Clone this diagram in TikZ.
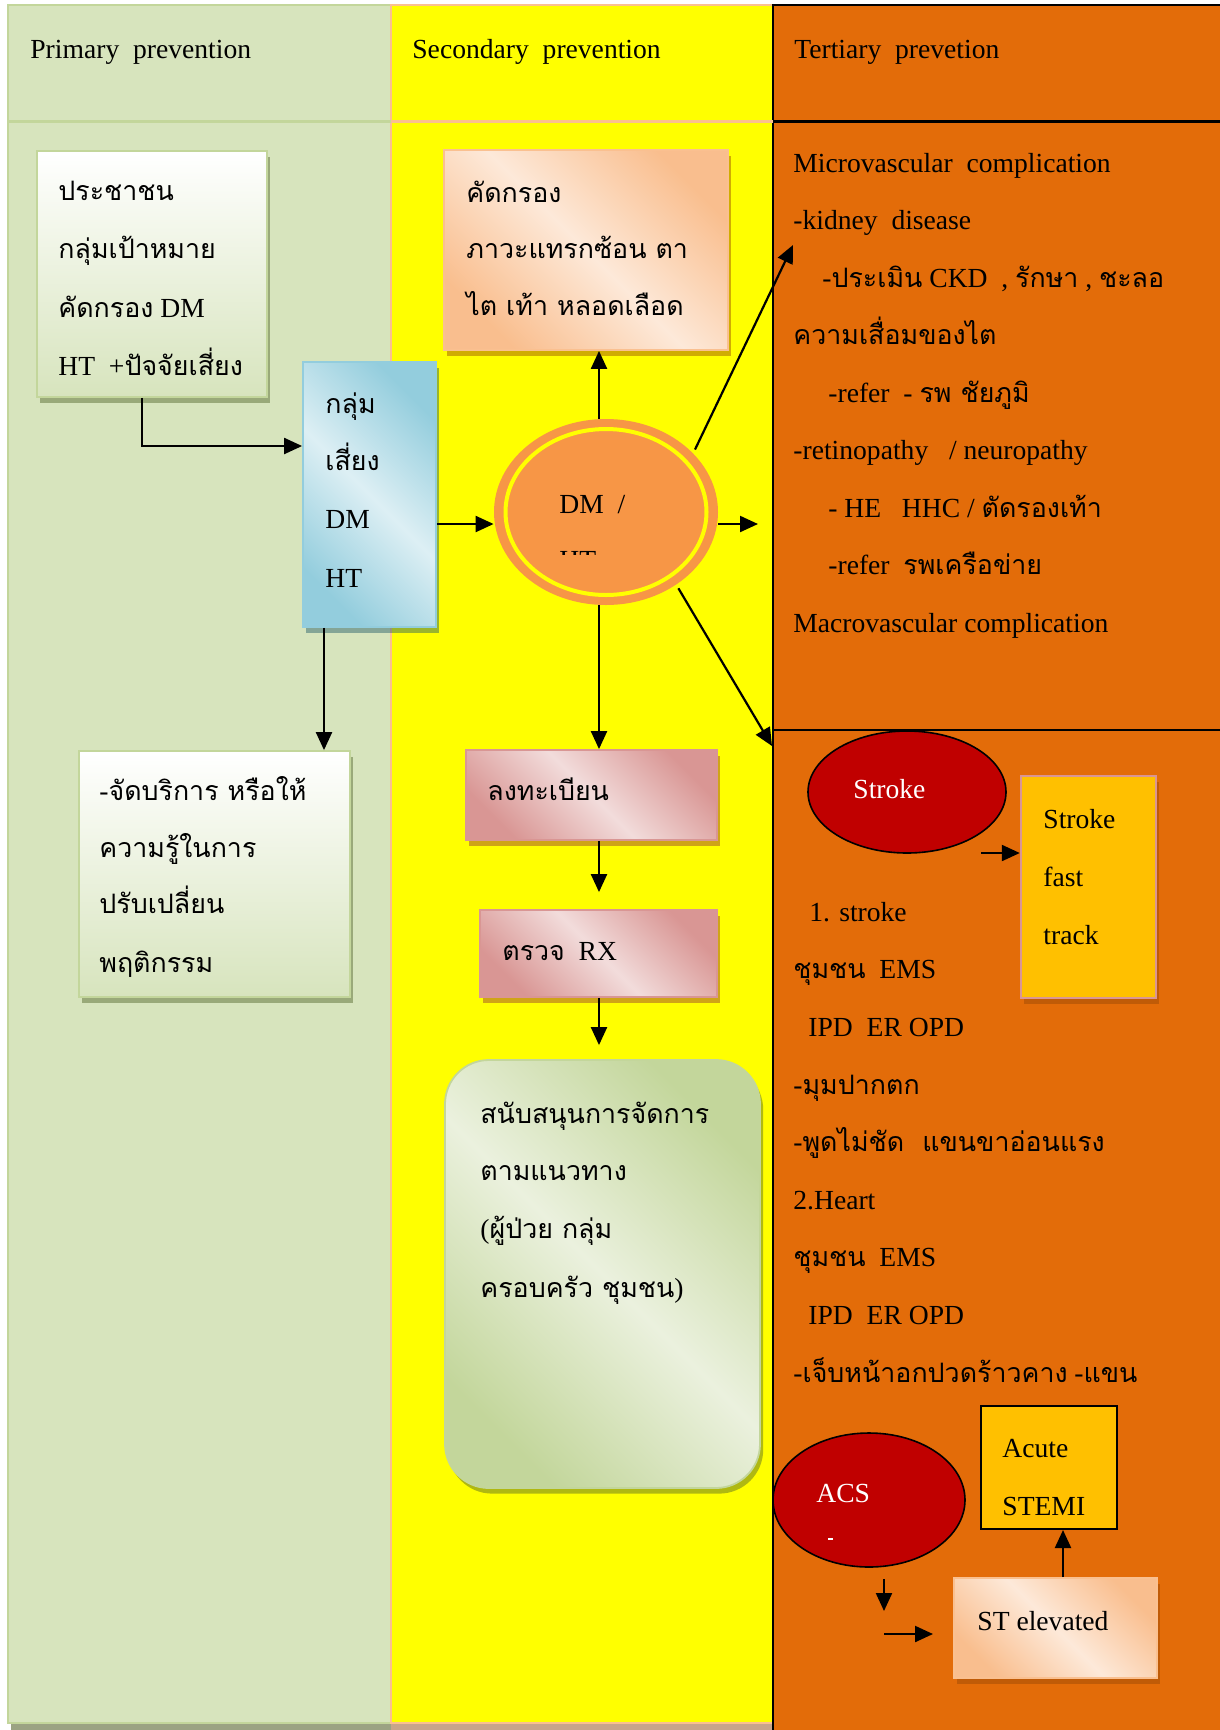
\documentclass[tikz,border=0pt]{standalone}
\usepackage{fontspec}
\setmainfont{Liberation Serif}
\newfontfamily\thaifont[Script=Thai,Scale=0.97]{Loma}
\usetikzlibrary{arrows.meta,shapes.geometric,shadows,fit,calc}

\newcommand\tha[1]{{\thaifont #1}}
\newcommand\bodysize{\fontsize{13.8pt}{16pt}\selectfont}

% column colours
\definecolor{greenbg}{HTML}{D7E4BD}
\definecolor{greenline}{HTML}{C3D69B}
\definecolor{yellowbg}{HTML}{FFFF00}
\definecolor{peachline}{HTML}{FAC090}
\definecolor{orangebg}{HTML}{E36C09}
\definecolor{colshadeg}{HTML}{9BA383}
\definecolor{colshadey}{HTML}{C8A58A}
% shape colours
\definecolor{dmorange}{HTML}{F79646}
\definecolor{darkred}{HTML}{C00000}
\definecolor{amber}{HTML}{FFC000}
\definecolor{blueD}{HTML}{93CDDD}
\definecolor{blueL}{HTML}{DDEFF4}
\definecolor{peachD}{HTML}{F9BE8E}
\definecolor{peachL}{HTML}{FDE9D9}
\definecolor{pinkD}{HTML}{D99694}
\definecolor{pinkL}{HTML}{F2DCDB}
\definecolor{greenD}{HTML}{C3D69B}
\definecolor{greenL}{HTML}{EBF1DE}
% shadow colours
\definecolor{sgreen}{HTML}{4F6228}
\definecolor{sblue}{HTML}{215968}
\definecolor{sorange}{HTML}{974806}
\definecolor{sred}{HTML}{953735}

\begin{document}
\begin{tikzpicture}[x=0.5pt,y=-0.5pt,
  txt/.style={anchor=base west,inner sep=0pt,font=\bodysize},
  wtxt/.style={txt,text=white},
  arr/.style={line width=1.1pt,-{Triangle[length=9pt,width=8pt]}},
  boxfit/.style={inner sep=0pt,line width=0.9pt},
  shad/.style={drop shadow={shadow xshift=1.6pt,shadow yshift=-2.8pt,fill=#1,opacity=0.45}},
  diag/.style 2 args={top color=#1,bottom color=#1,middle color=#2,shading angle=-45},
]
\useasboundingbox (0,0) rectangle (1220,1730);
\fill[white] (0,0) rectangle (1220,1730);

% ---- the three columns ----
\fill[colshadeg] (11,1723) rectangle (391,1730);
\fill[colshadey] (391,1723) rectangle (773,1730);
\filldraw[fill=greenbg,draw=greenline,line width=1.2pt] (8,5) rectangle (391,1723);
\filldraw[fill=yellowbg,draw=peachline,line width=1.2pt] (391,5) rectangle (773,1723);
\filldraw[fill=orangebg,draw=black,line width=1.1pt] (773,5) rectangle (1230,1740);
\draw[greenline,line width=1.5pt] (8,121) -- (391,121);
\draw[peachline,line width=1.5pt] (391,121) -- (773,121);
\draw[black,line width=1.5pt] (773,121) -- (1230,121);
\draw[black,line width=0.8pt] (773,730) -- (1230,730);

% ---- headers ----
\node[txt] (h1) at (30,58) {Primary\ \ prevention};
\node[txt] (h2) at (412,58) {Secondary\ \ prevention};
\node[txt] (h3) at (794,58) {Tertiary\ \ prevetion};

% ---- primary prevention ----
\node[boxfit,fit={(37,151) (267,397)},draw=greenline,top color=white,bottom color=greenbg,shad=sgreen] (b1) {};
\node[txt] (b1a) at (58,200) {\tha{ประชาชน}};
\node[txt] (b1b) at (58,258) {\tha{กลุ่มเป้าหมาย}};
\node[txt] (b1c) at (58,317) {\tha{คัดกรอง} DM};
\node[txt] (b1d) at (58,375) {HT\ \ +\tha{ปัจจัยเสี่ยง}};

\node[boxfit,fit={(303,362) (436,627)},draw=blueD,diag={blueD}{blueL},shad=sblue] (rb) {};
\node[txt] (rba) at (325,413) {\tha{กลุ่ม}};
\node[txt] (rbb) at (325,470) {\tha{เสี่ยง}};
\node[txt] (rbc) at (325,528) {DM};
\node[txt] (rbd) at (325,587) {HT};

\node[boxfit,fit={(79,751) (350,997)},draw=greenline,top color=white,bottom color=greenbg,shad=sgreen] (pb) {};
\node[txt] (pba) at (99,800) {-\tha{จัดบริการ หรือให้}};
\node[txt] (pbb) at (99,857) {\tha{ความรู้ในการ}};
\node[txt] (pbc) at (99,913) {\tha{ปรับเปลี่ยน}};
\node[txt] (pbd) at (99,972) {\tha{พฤติกรรม}};

% ---- secondary prevention ----
\node[boxfit,fit={(444,150) (728,350)},draw=peachline,diag={peachD}{peachL},shad=sorange] (scr) {};
\node[txt] (scra) at (466,202) {\tha{คัดกรอง}};
\node[txt] (scrb) at (466,258) {\tha{ภาวะแทรกซ้อน ตา}};
\node[txt] (scrc) at (466,315) {\tha{ไต เท้า หลอดเลือด}};

\node[ellipse,inner sep=0pt,minimum width=112pt,minimum height=93pt,fill=dmorange] (dm) at (606,512) {};
\node[ellipse,inner sep=0pt,minimum width=100.5pt,minimum height=83pt,draw=yellowbg,line width=2pt] (dmring) at (dm.center) {};
\begin{scope}
  \clip (494,419) rectangle (718,554.5);
  \node[txt] (dma) at (559,513) {DM\ \ /};
  \node[txt] (dmb) at (559,569.5) {HT};
\end{scope}

\node[boxfit,fit={(466,750) (717,840)},draw=pinkD,diag={pinkD}{pinkL},shad=sred] (reg) {};
\node[txt] (rega) at (487,800) {\tha{ลงทะเบียน}};
\node[boxfit,fit={(480,910) (717,997)},draw=pinkD,diag={pinkD}{pinkL},shad=sred] (rx) {};
\node[txt] (rxa) at (502,960) {\tha{ตรวจ}\ \ RX};

\node[boxfit,fit={(445,1060) (760,1488)},rounded corners=22pt,draw=greenline,diag={greenD}{greenL},shad=sgreen] (sup) {};
\node[txt] (supa) at (480,1123) {\tha{สนับสนุนการจัดการ}};
\node[txt] (supb) at (480,1180) {\tha{ตามแนวทาง}};
\node[txt] (supc) at (480,1238) {(\tha{ผู้ป่วย กลุ่ม}};
\node[txt] (supd) at (480,1297) {\tha{ครอบครัว ชุมชน})};

% ---- tertiary prevention: microvascular ----
\node[txt] (t1) at (793,172) {Microvascular\ \ complication};
\node[txt] (t2) at (793,229.5) {-kidney\ \ disease};
\node[txt] (t3) at (822,287) {-\tha{ประเมิน} CKD\ \ , \tha{รักษา} , \tha{ชะลอ}};
\node[txt] (t4) at (793,344.5) {\tha{ความเสื่อมของไต}};
\node[txt] (t5) at (828,402) {-refer\ \ - \tha{รพ ชัยภูมิ}};
\node[txt] (t6) at (793,459.5) {-retinopathy\ \ \ / neuropathy};
\node[txt] (t7) at (828,517) {- HE\ \ \ HHC / \tha{ตัดรองเท้า}};
\node[txt] (t8) at (828,574.5) {-refer\ \ \tha{รพเครือข่าย}};
\node[txt] (t9) at (793,632) {Macrovascular complication};

% ---- tertiary prevention: macrovascular ----
\node[ellipse,inner sep=0pt,minimum width=99pt,minimum height=61pt,fill=darkred,draw=black,line width=0.8pt] (stroke) at (907,792) {};
\node[wtxt] (strokea) at (853,798) {Stroke};
\node[boxfit,fit={(1021,776) (1156,998)},fill=amber,draw=pinkD,line width=1.2pt,shad=sorange] (sft) {};
\node[txt] (sfta) at (1043,828) {Stroke};
\node[txt] (sftb) at (1043,886) {fast};
\node[txt] (sftc) at (1043,944) {track};

\node[txt] (m1) at (809,921) {1. stroke};
\node[txt] (m2) at (793,978.6) {\tha{ชุมชน}\ \ EMS};
\node[txt] (m3) at (808,1036) {IPD\ \ ER OPD};
\node[txt] (m4) at (793,1094) {-\tha{มุมปากตก}};
\node[txt] (m5) at (793,1151.5) {-\tha{พูดไม่ชัด\ \ แขนขาอ่อนแรง}};
\node[txt] (m6) at (793,1209) {2.Heart};
\node[txt] (m7) at (793,1266.8) {\tha{ชุมชน}\ \ EMS};
\node[txt] (m8) at (808,1324) {IPD\ \ ER OPD};
\node[txt] (m9) at (793,1382) {-\tha{เจ็บหน้าอกปวดร้าวคาง} -\tha{แขน}};

\node[ellipse,inner sep=0pt,minimum width=96pt,minimum height=67pt,fill=darkred,draw=black,line width=0.8pt] (acs) at (869,1500) {};
\node[wtxt] (acsa) at (816,1502) {ACS};
\draw[white,line width=1pt] (828,1539) -- (833,1539);
\node[boxfit,fit={(981,1406) (1117,1529)},fill=amber,draw=black,line width=1pt] (acute) {};
\node[txt] (acutea) at (1002,1457) {Acute};
\node[txt] (acuteb) at (1002,1515) {STEMI};
\node[boxfit,fit={(954,1578) (1157,1678)},draw=peachline,diag={peachD}{peachL},shad=sorange] (st) {};
\node[txt] (sta) at (977,1630) {ST elevated};

% ---- connectors ----
\coordinate (elbow) at (142,446);
\coordinate (midline) at (0,524);
\coordinate (spine) at (599,0);
\coordinate (dropx) at (324,0);
\coordinate (rightend) at (758,524);
\coordinate (kidney) at (793,245);
\coordinate (macro) at (772,746);
\coordinate (strokefrom) at (981,853);
\coordinate (acsdown) at (884,1579);
\coordinate (acsdownend) at (884,1611);
\coordinate (acsright) at (884,1634);
\coordinate (acsrightend) at (933,1634);
\coordinate (stemix) at (1063,0);

\draw[arr] (b1.south -| elbow) |- (rb.west |- elbow);
\draw[arr] (rb.east |- midline) -- (dm.west |- midline);
\draw[arr] (rb.south -| dropx) -- (pb.north -| dropx);
\draw[arr] (dm.north -| spine) -- (scr.south -| spine);
\draw[arr] (dm.east |- midline) -- (rightend);
\draw[arr,shorten <=2pt] (dm.34) -- (kidney);
\draw[arr,shorten <=2pt] (dm.-46) -- (macro);
\draw[arr] (dm.south -| spine) -- (reg.north -| spine);
\draw[arr,shorten >=8.5pt] (reg.south -| spine) -- (rx.north -| spine);
\draw[arr,shorten >=7pt] (rx.south -| spine) -- (sup.north -| spine);
\draw[arr] (strokefrom) -- (sft.west |- strokefrom);
\draw[arr] (acsdown) -- (acsdownend);
\draw[arr] (acsright) -- (acsrightend);
\draw[arr] (st.north -| stemix) -- (acute.south -| stemix);
\end{tikzpicture}
\end{document}
